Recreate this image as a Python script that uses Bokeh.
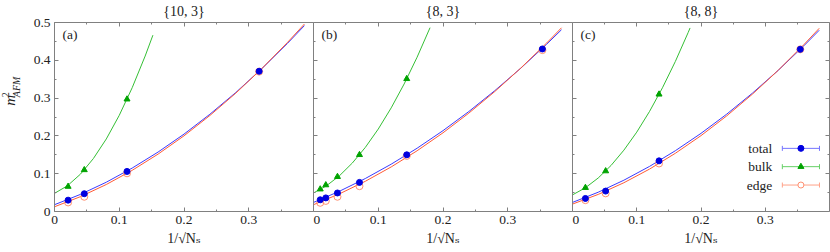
from math import pi
from bokeh.plotting import figure
from bokeh.models import (Range1d, LinearAxis, FixedTicker, NumeralTickFormatter,
                          CustomJSTickFormatter, Label)
from bokeh.layouts import row
from bokeh.embed import file_html
from bokeh.resources import INLINE

# ---------------- data ----------------
titles = ["{10, 3}", "{8, 3}", "{8, 8}"]
letters = ["(a)", "(b)", "(c)"]
x_label = "1/\u221aN\u209b"

# panel (a) {10,3}
a_x = [0.021, 0.046, 0.112, 0.316]
a_total = [0.030, 0.047, 0.106, 0.371]
a_bulk = [0.066, 0.110, 0.297]
a_edge = [0.024, 0.039, 0.101, 0.370]
a_fit_x = [0.0, 0.04, 0.08, 0.12, 0.16, 0.20, 0.24, 0.28, 0.32, 0.36, 0.386]
a_fit_total = [0.0180, 0.0452, 0.0775, 0.1149, 0.1573, 0.2047, 0.2573, 0.3148, 0.3775, 0.4451, 0.4918]
a_fit_edge = [0.0125, 0.0392, 0.0714, 0.1089, 0.1519, 0.2002, 0.2540, 0.3131, 0.3777, 0.4476, 0.4960]
a_fit_bulk_x = [0.0, 0.02, 0.04, 0.06, 0.08, 0.10, 0.12, 0.14, 0.152]
a_fit_bulk = [0.0480, 0.0681, 0.0987, 0.1400, 0.1919, 0.2544, 0.3275, 0.4112, 0.4665]

# panel (b) {8,3}
b_x = [0.0104, 0.019, 0.037, 0.071, 0.144, 0.3535]
b_total = [0.031, 0.036, 0.049, 0.077, 0.150, 0.430]
b_bulk = [0.059, 0.070, 0.092, 0.150, 0.351]
b_edge = [0.023, 0.028, 0.039, 0.067, 0.147, 0.427]
b_fit_x = [0.0, 0.04, 0.08, 0.12, 0.16, 0.20, 0.24, 0.28, 0.32, 0.36, 0.383]
b_fit_total = [0.0240, 0.0535, 0.0872, 0.1252, 0.1674, 0.2139, 0.2646, 0.3197, 0.3789, 0.4424, 0.4809]
b_fit_edge = [0.0180, 0.0466, 0.0799, 0.1179, 0.1607, 0.2082, 0.2604, 0.3174, 0.3792, 0.4456, 0.4860]
b_fit_bulk_x = [0.0, 0.02, 0.04, 0.06, 0.08, 0.10, 0.12, 0.14, 0.16, 0.18]
b_fit_bulk = [0.0490, 0.0680, 0.0944, 0.1283, 0.1695, 0.2181, 0.2741, 0.3374, 0.4082, 0.4864]

# panel (c) {8,8}
c_x = [0.0201, 0.0516, 0.1347, 0.3545]
c_total = [0.0345, 0.054, 0.134, 0.429]
c_bulk = [0.063, 0.107, 0.310]
c_edge = [0.030, 0.048, 0.127, 0.429]
c_fit_x = [0.0, 0.04, 0.08, 0.12, 0.16, 0.20, 0.24, 0.28, 0.32, 0.36, 0.384]
c_fit_total = [0.0240, 0.0510, 0.0828, 0.1194, 0.1607, 0.2067, 0.2575, 0.3130, 0.3732, 0.4382, 0.4795]
c_fit_edge = [0.0196, 0.0452, 0.0761, 0.1123, 0.1539, 0.2007, 0.2529, 0.3104, 0.3732, 0.4413, 0.4847]
c_fit_bulk_x = [0.0, 0.02, 0.04, 0.06, 0.08, 0.10, 0.12, 0.14, 0.16, 0.18, 0.183]
c_fit_bulk = [0.0440, 0.0627, 0.0886, 0.1218, 0.1623, 0.2100, 0.2650, 0.3272, 0.3967, 0.4734, 0.4856]

x_ticks = [0.0, 0.1, 0.2, 0.3]
x_minor = [0.05, 0.15, 0.25, 0.35]
y_ticks = [0.0, 0.1, 0.2, 0.3, 0.4, 0.5]
y_minor = [0.05, 0.15, 0.25, 0.35, 0.45]

legend_names = ["total", "bulk", "edge"]

# ---------------- styles ----------------
FONT = "'Liberation Serif', 'DejaVu Serif', serif"
TXT = "#222222"
FRAME = "#808080"
BLUE_M, BLUE_L, BLUE_LEG = "#0000e0", "#3a3aff", "#7474ff"
GREEN_M, GREEN_L, GREEN_LEG = "#00a300", "#35bf35", "#66d066"
EDGE_M, EDGE_L, EDGE_LEG = "#ff9070", "#ff5a36", "#ffa288"
H = 252


def mk_axis(ticks, minors, show, label=None):
    ax = LinearAxis(
        ticker=FixedTicker(ticks=ticks, minor_ticks=minors),
        axis_line_color=FRAME, axis_line_width=1,
        major_tick_line_color=FRAME, minor_tick_line_color=FRAME,
        major_tick_in=4, major_tick_out=0, minor_tick_in=2, minor_tick_out=0,
    )
    if show:
        ax.formatter = NumeralTickFormatter(format="0.[0]")
        ax.major_label_text_font = FONT
        ax.major_label_text_font_size = "13.5px"
        ax.major_label_text_color = TXT
        ax.major_label_standoff = 4
    else:
        ax.formatter = CustomJSTickFormatter(code="return ''")
        ax.major_label_text_font_size = "1px"
        ax.major_label_text_color = None
        ax.major_label_standoff = 0
    if label is not None:
        ax.axis_label = label
        ax.axis_label_text_font = FONT
        ax.axis_label_text_font_size = "14px"
        ax.axis_label_text_font_style = "normal"
        ax.axis_label_text_color = TXT
        ax.axis_label_standoff = 4
    return ax


def lab(p, text, x, y, xo=0, yo=0, size="13.5px", align="left", base="alphabetic",
        style="normal", angle=0.0):
    p.add_layout(Label(x=x, y=y, x_offset=xo, y_offset=yo, text=text,
                       text_font=FONT, text_font_size=size, text_color=TXT,
                       text_align=align, text_baseline=base,
                       text_font_style=style, angle=angle))


def make_panel(i, xs, tot, bulk, edge, fx, ft, fe, fbx, fb, width, ml, mr, first, last):
    p = figure(width=width, height=H, x_range=Range1d(0, 0.4), y_range=Range1d(0, 0.5),
               output_backend="svg", toolbar_location=None,
               x_axis_type=None, y_axis_type=None,
               min_border_left=ml, min_border_right=mr, min_border_top=22, min_border_bottom=41,
               outline_line_color=None, background_fill_color="white", border_fill_color="white")
    p.title.text = titles[i]
    p.title.align = "center"
    p.title.vertical_align = "top"
    p.title.standoff = 4.4
    p.title.text_font = FONT
    p.title.text_font_size = "14px"
    p.title.text_font_style = "normal"
    p.title.text_color = TXT

    p.add_layout(mk_axis(x_ticks, x_minor, True, x_label), "below")
    p.add_layout(mk_axis(x_ticks, x_minor, False), "above")
    p.add_layout(mk_axis(y_ticks, y_minor, first), "left")
    if last:
        p.add_layout(mk_axis(y_ticks, y_minor, False), "right")

    # fit curves
    p.line(fbx, fb, line_color=GREEN_L, line_width=1)
    p.line(fx, ft, line_color=BLUE_L, line_width=1)
    p.line(fx, fe, line_color=EDGE_L, line_width=1)
    # data points
    p.scatter(xs, edge, marker="circle", size=7, fill_color=None, line_color=EDGE_M, line_width=1)
    p.scatter(xs, tot, marker="circle", size=6, fill_color=BLUE_M, line_color=BLUE_M)
    p.scatter(xs[:len(bulk)], bulk, marker="triangle", size=6, fill_color=GREEN_M, line_color=GREEN_M)

    lab(p, letters[i], 0.0, 0.5, xo=8, yo=-4, base="top")

    if last:
        # legend: text on the left, sample with error-bar caps on the right
        lx_text, lx0, lx1, lxm = 0.311, 0.3266, 0.3844, 0.3555
        ly = [0.167, 0.1186, 0.070]
        cols = [BLUE_LEG, GREEN_LEG, EDGE_LEG]
        for k, name in enumerate(legend_names):
            lab(p, name, lx_text, ly[k], align="right", base="middle")
            p.segment([lx0], [ly[k]], [lx1], [ly[k]], line_color=cols[k], line_width=1)
            p.scatter([lx0, lx1], [ly[k], ly[k]], marker="dash", angle=pi / 2, size=5,
                      line_color=cols[k], line_width=1)
        p.scatter([lxm], [ly[0]], marker="circle", size=6, fill_color=BLUE_M, line_color=BLUE_M)
        p.scatter([lxm], [ly[1]], marker="triangle", size=6, fill_color=GREEN_M, line_color=GREEN_M)
        p.scatter([lxm], [ly[2]], marker="circle", size=6, fill_color="white", line_color=EDGE_M)
    return p


# narrow strip holding the rotated y-axis label  m^2_AFM
YL_W = 22
yl = figure(width=YL_W, height=H, x_range=Range1d(0, YL_W), y_range=Range1d(0, H),
            output_backend="svg", toolbar_location=None, x_axis_type=None, y_axis_type=None,
            min_border=0, min_border_left=0, min_border_right=0, min_border_top=0,
            min_border_bottom=0, outline_line_color=None,
            background_fill_color="white", border_fill_color="white")
lab(yl, "m", 9.8, 141, size="15px", style="italic", angle=pi / 2)
lab(yl, "2", 5.0, 152.5, size="10px", angle=pi / 2)
lab(yl, "AFM", 15.5, 152.5, size="10px", style="italic", angle=pi / 2)

pa = make_panel(0, a_x, a_total, a_bulk, a_edge, a_fit_x, a_fit_total, a_fit_edge,
                a_fit_bulk_x, a_fit_bulk, 291, 32, 0, True, False)
pb = make_panel(1, b_x, b_total, b_bulk, b_edge, b_fit_x, b_fit_total, b_fit_edge,
                b_fit_bulk_x, b_fit_bulk, 259, 0, 0, False, False)
pc = make_panel(2, c_x, c_total, c_bulk, c_edge, c_fit_x, c_fit_total, c_fit_edge,
                c_fit_bulk_x, c_fit_bulk, 258, 0, 1, False, True)

layout = row(yl, pa, pb, pc, spacing=0)
open("out.html", "w").write(file_html(layout, INLINE))
